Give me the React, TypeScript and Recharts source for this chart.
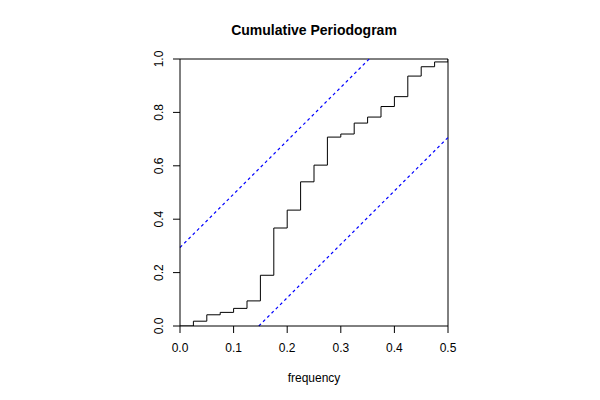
import React from "react";
import { LineChart, Line, XAxis, YAxis, ReferenceLine } from "recharts";

const frequencies = [0, 0.025, 0.05, 0.075, 0.1, 0.125, 0.15, 0.175, 0.2, 0.225, 0.25, 0.275, 0.3, 0.325, 0.35, 0.375, 0.4, 0.425, 0.45, 0.475, 0.5];
const cumValues = [0, 0.018, 0.042, 0.051, 0.066, 0.094, 0.19, 0.367, 0.434, 0.54, 0.6025, 0.7075, 0.719, 0.76, 0.7825, 0.822, 0.859, 0.936, 0.971, 0.989, 1.0];
const upperBandF = [0, 0.353];
const upperBandV = [0.294, 1];
const lowerBandF = [0.147, 0.5];
const lowerBandV = [0, 0.706];
const xTicks = [0, 0.1, 0.2, 0.3, 0.4, 0.5];
const yTicks = [0, 0.2, 0.4, 0.6, 0.8, 1.0];

const cpData = frequencies.map((f, i) => ({ f, v: cumValues[i] }));
const upperSeg = upperBandF.map((f, i) => ({ x: f, y: upperBandV[i] }));
const lowerSeg = lowerBandF.map((f, i) => ({ x: f, y: lowerBandV[i] }));

const FONT = "'Liberation Sans', Arial, Helvetica, sans-serif";

const XTick = (props: any) => {
  const { x, y, payload } = props;
  return (
    <text x={x} y={y + 13} textAnchor="middle" dominantBaseline="central" fontSize={12} fontFamily={FONT} fill="#000">
      {Number(payload.value).toFixed(1)}
    </text>
  );
};

const YTick = (props: any) => {
  const { x, y, payload } = props;
  const cx = x - 12;
  return (
    <text x={cx} y={y} textAnchor="middle" dominantBaseline="central" fontSize={12} fontFamily={FONT} fill="#000" transform={`rotate(-90, ${cx}, ${y})`}>
      {Number(payload.value).toFixed(1)}
    </text>
  );
};

export default function App() {
  return (
    <div style={{ position: "absolute", left: 0, top: 0, width: 600, height: 400, background: "#fff" }}>
      <div style={{ position: "absolute", left: 0, top: 20, width: 628, textAlign: "center", fontFamily: FONT, fontWeight: "bold", fontSize: 14, lineHeight: "20px", color: "#000" }}>
        Cumulative Periodogram
      </div>
      <LineChart data={cpData} width={600} height={400} margin={{ top: 59, right: 152, bottom: 0, left: 0 }}>
        <XAxis
          dataKey="f"
          type="number"
          domain={[0, 0.5]}
          ticks={xTicks}
          allowDataOverflow
          height={74}
          tickSize={7}
          tick={<XTick />}
          stroke="#000"
          label={{ value: "frequency", position: "insideBottom", offset: 18, fontSize: 12, fontFamily: FONT, fill: "#000" }}
        />
        <YAxis
          type="number"
          domain={[0, 1]}
          ticks={yTicks}
          allowDataOverflow
          width={180}
          tickSize={7}
          tick={<YTick />}
          stroke="#000"
        />
        <ReferenceLine y={1} stroke="#000" />
        <ReferenceLine x={0.5} stroke="#000" />
        <ReferenceLine segment={upperSeg} stroke="#0000ff" strokeWidth={1.2} strokeDasharray="3 3" />
        <ReferenceLine segment={lowerSeg} stroke="#0000ff" strokeWidth={1.2} strokeDasharray="3 3" />
        <Line dataKey="v" type="stepAfter" stroke="#000" strokeWidth={1} dot={false} isAnimationActive={false} />
      </LineChart>
    </div>
  );
}
